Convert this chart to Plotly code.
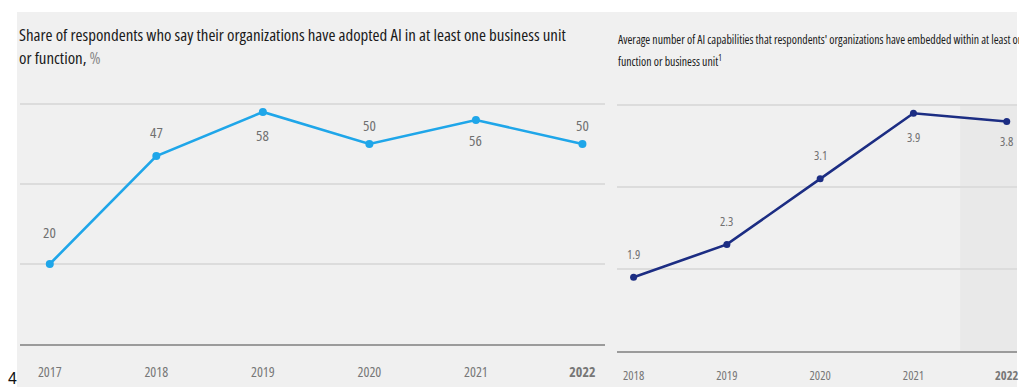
import plotly.graph_objects as go

# Left panel: share of respondents reporting AI adoption (%)
adopt_years = [2017, 2018, 2019, 2020, 2021, 2022]
adopt_share = [20, 47, 58, 50, 56, 50]
adopt_label_shift = [32, 24, -23, 19, -20, 19]

# Right panel: average number of AI capabilities embedded
cap_years = [2018, 2019, 2020, 2021, 2022]
cap_avg = [1.9, 2.3, 3.1, 3.9, 3.8]
cap_label_shift = [23, 23, 23, -24, -20]

left_ticktext = ["2017", "2018", "2019", "2020", "2021", "<b>2022</b>"]
right_ticktext = ["2018", "2019", "2020", "2021", "<b>2022</b>"]

W, H = 1019, 387
FONT = "Open Sans, sans-serif"
BG = "#f0f0f0"
GRID = "#dcdcdc"
AXIS = "#9b9b9b"
LABEL = "#707070"


def px(x):
    return x / W


def py(y):
    return 1 - y / H


def cond(text):
    """Narrow (condensed) rendering of a text run."""
    return f"<span style='font-stretch:75%'>{text}</span>"


fig = go.Figure()

fig.add_trace(go.Scatter(
    x=adopt_years, y=adopt_share, mode="lines+markers",
    line=dict(color="#1fa6e9", width=2.6),
    marker=dict(color="#1fa6e9", size=8),
    xaxis="x", yaxis="y", cliponaxis=False, hoverinfo="skip",
))
fig.add_trace(go.Scatter(
    x=cap_years, y=cap_avg, mode="lines+markers",
    line=dict(color="#1c2d83", width=2.6),
    marker=dict(color="#1c2d83", size=7),
    xaxis="x2", yaxis="y2", cliponaxis=False, hoverinfo="skip",
))

annotations = []
for yr, v, s in zip(adopt_years, adopt_share, adopt_label_shift):
    annotations.append(dict(
        x=yr, y=v, xref="x", yref="y", text=cond(str(v)), showarrow=False,
        yshift=s, font=dict(family=FONT, size=15, color=LABEL),
    ))
for yr, v, s in zip(cap_years, cap_avg, cap_label_shift):
    annotations.append(dict(
        x=yr, y=v, xref="x2", yref="y2", text=cond(f"{v:.1f}"), showarrow=False,
        yshift=s, font=dict(family=FONT, size=12.5, color=LABEL),
    ))

TITLE_L = dict(family=FONT, size=16.9, color="#1a1a1a", weight=500)
TITLE_R = dict(family=FONT, size=11.8, color="#1a1a1a", weight=500)

# Panel titles
annotations += [
    dict(x=px(17), y=py(35), xref="paper", yref="paper", xanchor="left",
         yanchor="middle", showarrow=False,
         text=cond("Share of respondents who say their organizations have adopted AI in at least one business unit"),
         font=TITLE_L),
    dict(x=px(17), y=py(57), xref="paper", yref="paper", xanchor="left",
         yanchor="middle", showarrow=False,
         text=cond("or function, <span style='color:#8a8a8a;font-weight:400'>%</span>"),
         font=TITLE_L),
    dict(x=px(617), y=py(39), xref="paper", yref="paper", xanchor="left",
         yanchor="middle", showarrow=False,
         text=cond("Average number of AI capabilities that respondents' organizations have embedded within at least one"),
         font=TITLE_R),
    dict(x=px(617), y=py(60), xref="paper", yref="paper", xanchor="left",
         yanchor="middle", showarrow=False,
         text=cond("function or business unit<sup>1</sup>"),
         font=TITLE_R),
    dict(x=px(13), y=py(378), xref="paper", yref="paper", xanchor="center",
         yanchor="middle", showarrow=False, text="4",
         font=dict(family="Liberation Sans, Arial, sans-serif", size=16, color="#111111")),
]

shapes = [
    # grey page panel behind both charts
    dict(type="rect", xref="paper", yref="paper", x0=px(17), x1=1, y0=0, y1=py(12),
         fillcolor=BG, line=dict(width=0), layer="below"),
    # highlighted latest-year column in the right chart
    dict(type="rect", xref="x2", yref="y2", x0=2021.5, x1=2022.5, y0=1, y1=4,
         fillcolor="#e9e9e9", line=dict(width=0), layer="below"),
]

fig.update_layout(
    width=W, height=H, margin=dict(l=0, r=0, t=0, b=0),
    paper_bgcolor="white", plot_bgcolor="rgba(0,0,0,0)",
    showlegend=False, annotations=annotations, shapes=shapes,
    xaxis=dict(
        domain=[px(20), px(606)], range=[2016.72, 2022.21],
        tickvals=adopt_years, ticktext=[cond(t) for t in left_ticktext],
        showgrid=False, zeroline=False, showline=True, linecolor=AXIS, linewidth=2,
        ticks="", ticklabelstandoff=14, ticklabeloverflow="allow",
        tickfont=dict(family=FONT, size=14, color="#777777"),
        anchor="y", fixedrange=True,
    ),
    yaxis=dict(
        domain=[py(344), py(102.8)], range=[0, 60.3], tickvals=[20, 40, 60],
        showticklabels=False, showgrid=True, gridcolor=GRID, gridwidth=1.5,
        zeroline=False, anchor="x", fixedrange=True,
    ),
    xaxis2=dict(
        domain=[px(618), 1], range=[2017.82, 2022.11],
        tickvals=cap_years, ticktext=[cond(t) for t in right_ticktext],
        showgrid=False, zeroline=False, showline=True, linecolor=AXIS, linewidth=2,
        ticks="", ticklabelstandoff=12, ticklabeloverflow="allow",
        tickfont=dict(family=FONT, size=12.5, color="#777777"),
        anchor="y2", fixedrange=True,
    ),
    yaxis2=dict(
        domain=[py(351), py(103.4)], range=[1, 4.02], tickvals=[2, 3, 4],
        showticklabels=False, showgrid=True, gridcolor=GRID, gridwidth=1.5,
        zeroline=False, anchor="x2", fixedrange=True,
    ),
)

fig.write_html("out.html")
